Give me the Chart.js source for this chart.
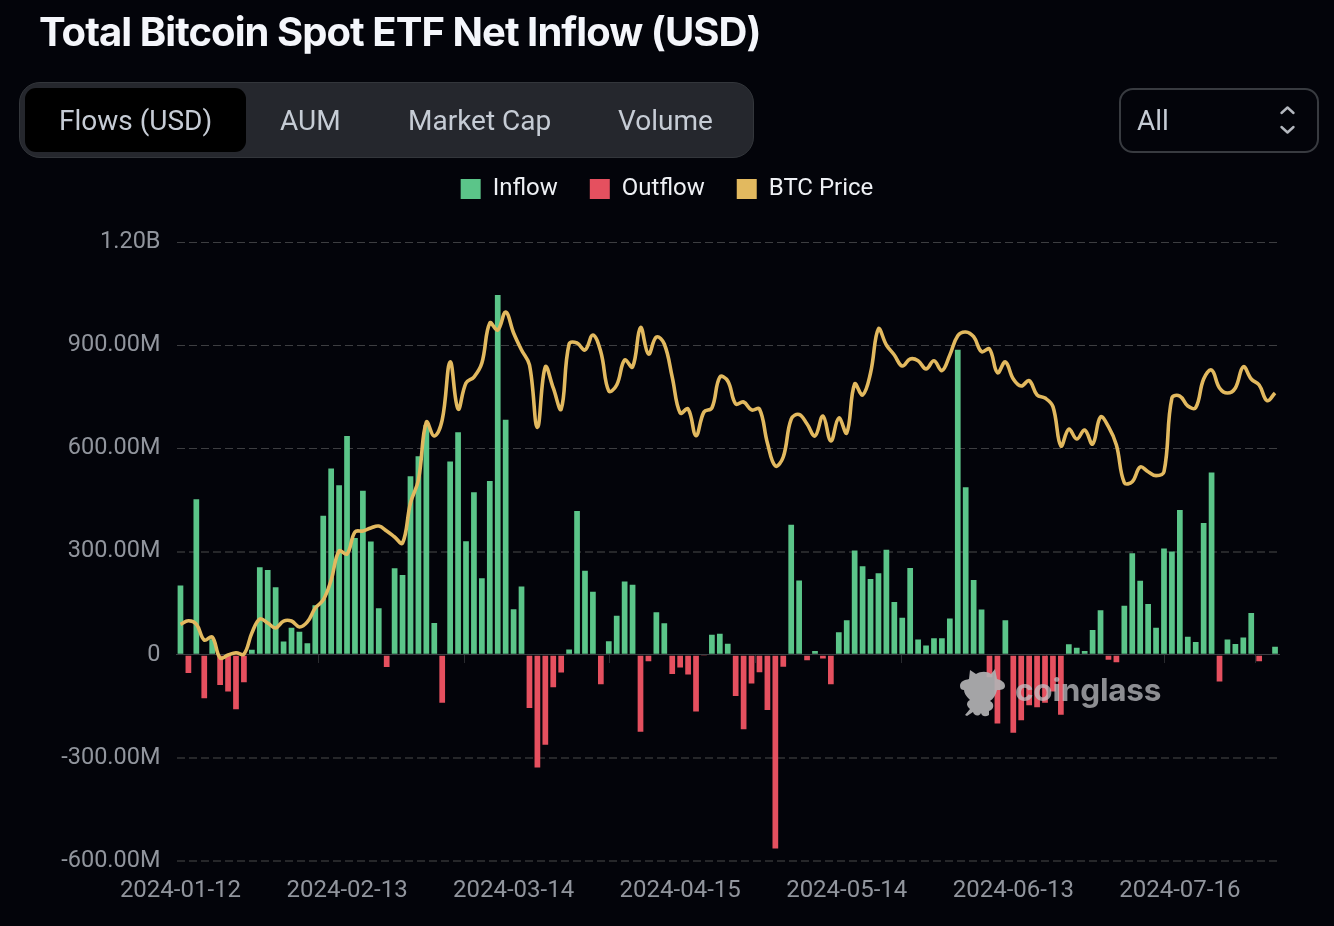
<!DOCTYPE html>
<html><head><meta charset="utf-8">
<script src="https://cdn.jsdelivr.net/npm/chart.js@4"></script>
<style>
html,body{margin:0;padding:0;width:1334px;height:926px;background:#03040a;overflow:hidden}
#c{position:absolute;left:0;top:0;width:1334px;height:926px}
.t{position:absolute;white-space:nowrap}
#title{left:39px;top:9px;font:700 40px Inter,sans-serif;letter-spacing:-.95px;color:#f4f6fb;line-height:46px}
#tabs{position:absolute;left:19px;top:82px;width:733px;height:74px;background:#25272d;border:1px solid #33363b;border-radius:21px;box-sizing:content-box}
#active{position:absolute;left:25px;top:88px;width:221px;height:64px;background:#000;border-radius:11px}
.tab{font:400 28px Roboto,sans-serif;color:#c6ccd5;line-height:34px;top:104px}
#sel{position:absolute;left:1119px;top:88px;width:196px;height:61px;border:2px solid #383b40;border-radius:14px}
#wmt{left:1015px;top:668px;font:700 31.5px Inter,sans-serif;letter-spacing:-.2px;color:rgba(196,196,200,.72);line-height:44px}
</style></head><body>
<canvas id="c" width="1334" height="926"></canvas>
<div class="t" id="title">Total Bitcoin Spot ETF Net Inflow (USD)</div>
<div id="tabs"></div><div id="active"></div>
<div class="t tab" style="left:59px">Flows (USD)</div>
<div class="t tab" style="left:280px">AUM</div>
<div class="t tab" style="left:408px">Market Cap</div>
<div class="t tab" style="left:618px">Volume</div>
<div id="sel"></div>
<div class="t tab" style="left:1137px">All</div>
<svg style="position:absolute;left:1278px;top:105px" width="20" height="30" viewBox="0 0 20 30"><path d="M3.5 8 L9.5 2.5 L15.5 8 M3.5 22 L9.5 27.5 L15.5 22" fill="none" stroke="#b4b8bf" stroke-width="2.4" stroke-linecap="round" stroke-linejoin="round"/></svg>
<svg style="position:absolute;left:958px;top:663px" width="50" height="56" viewBox="0 0 50 56"><path d="M2 23 C2 18 7 17 11 16 L12 7 L18 11 C23 8 29 8 33 11 L37 6 L39 16 C43 17 47 19 47 23 C47 27 42 27 39 27 C38 32 35 36 32 38 C37 40 36 47 31 48 L31 52 C28 54 24 54 23 50 C21 54 16 53 15 49 L9 53 L7 52 L12 46 C8 43 8 39 12 37 C8 33 6 30 6 27 C4 27 2 26 2 23Z" fill="rgba(178,178,180,.92)"/></svg>
<div class="t" id="wmt">coinglass</div>
<script>
const dates = ["2024-01-12","2024-01-16","2024-01-17","2024-01-18","2024-01-19","2024-01-22","2024-01-23","2024-01-24","2024-01-25","2024-01-26","2024-01-29","2024-01-30","2024-01-31","2024-02-01","2024-02-02","2024-02-05","2024-02-06","2024-02-07","2024-02-08","2024-02-09","2024-02-12","2024-02-13","2024-02-14","2024-02-15","2024-02-16","2024-02-20","2024-02-21","2024-02-22","2024-02-23","2024-02-26","2024-02-27","2024-02-28","2024-02-29","2024-03-01","2024-03-04","2024-03-05","2024-03-06","2024-03-07","2024-03-08","2024-03-11","2024-03-12","2024-03-13","2024-03-14","2024-03-15","2024-03-18","2024-03-19","2024-03-20","2024-03-21","2024-03-22","2024-03-25","2024-03-26","2024-03-27","2024-03-28","2024-04-01","2024-04-02","2024-04-03","2024-04-04","2024-04-05","2024-04-08","2024-04-09","2024-04-10","2024-04-11","2024-04-12","2024-04-15","2024-04-16","2024-04-17","2024-04-18","2024-04-19","2024-04-22","2024-04-23","2024-04-24","2024-04-25","2024-04-26","2024-04-29","2024-04-30","2024-05-01","2024-05-02","2024-05-03","2024-05-06","2024-05-07","2024-05-08","2024-05-09","2024-05-10","2024-05-13","2024-05-14","2024-05-15","2024-05-16","2024-05-17","2024-05-20","2024-05-21","2024-05-22","2024-05-23","2024-05-24","2024-05-28","2024-05-29","2024-05-30","2024-05-31","2024-06-03","2024-06-04","2024-06-05","2024-06-06","2024-06-07","2024-06-10","2024-06-11","2024-06-12","2024-06-13","2024-06-14","2024-06-17","2024-06-18","2024-06-20","2024-06-21","2024-06-24","2024-06-25","2024-06-26","2024-06-27","2024-06-28","2024-07-01","2024-07-02","2024-07-03","2024-07-05","2024-07-08","2024-07-09","2024-07-10","2024-07-11","2024-07-12","2024-07-15","2024-07-16","2024-07-17","2024-07-18","2024-07-19","2024-07-22","2024-07-23","2024-07-24","2024-07-25","2024-07-26","2024-07-29","2024-07-30","2024-07-31","2024-08-01"];
// Net flow per trading day, millions of USD
const netFlowM = [201,-53,452,-127,45,-88,-107,-159,-80,14,254,246,196,38,78,67,33,144,404,541,493,636,339,477,329,135,-36,251,232,519,577,668,92,-140,562,647,330,472,222,505,1046,683,132,198,-155,-328,-262,-95,-52,15,418,244,183,-86,39,113,213,203,-224,-19,123,91,-56,-37,-58,-165,-4,58,61,32,-120,-217,-84,-51,-161,-564,-35,378,216,-16,11,-11,-86,65,100,303,257,220,237,305,153,107,252,44,27,48,48,105,887,487,217,131,-66,-200,100,-227,-191,-147,-153,-140,-107,-175,30,20,11,72,129,-15,-22,142,295,215,147,78,309,300,421,52,37,383,530,-78,44,31,50,121,-19,0,23];
const btcPrice = [42940,43290,42970,41420,41710,39680,39970,40190,40060,42100,43460,43070,42590,43260,43260,42680,43170,44520,45300,47240,50050,49760,51890,51990,52280,52470,51990,51410,50820,54700,56930,62550,61200,62750,68370,63810,66330,66910,68270,72150,71470,73210,71180,69530,68080,62020,67880,65850,63810,70110,70210,69530,70990,69340,65560,66140,68560,67880,71710,69140,70790,70110,66910,63420,63810,61230,63520,63910,66910,66530,64300,64490,63720,63810,60520,58290,59160,62840,63280,62360,61200,63130,60710,62940,61490,66240,65170,67300,71570,70020,69050,67980,68660,68490,67690,68490,67530,69050,70920,71280,70820,69370,69630,67330,68370,66720,66040,66560,65170,64880,64040,60230,61870,60900,61780,60420,63040,62100,60320,56670,56770,58190,57730,57350,57730,64880,65070,64100,63940,66720,67590,65850,65360,65850,67910,66720,66140,64620,65360];
const tickEvery = 21;
const yTicksM = [-600,-300,0,300,600,900,1200];

const inflow = netFlowM.map(v => v > 0 ? v*1e6 : null);
const outflow = netFlowM.map(v => v < 0 ? v*1e6 : null);
const fmt = v => v === 0 ? '0' : Math.abs(v) >= 1e9 ? (v/1e9).toFixed(2)+'B' : (v/1e6).toFixed(2)+'M';
const FONT = 'Roboto';
const order = ['Inflow','Outflow','BTC Price'];

new Chart(document.getElementById('c'), {
  type: 'bar',
  data: { labels: dates, datasets: [
    { type:'line', label:'BTC Price', data:btcPrice, yAxisID:'y2', borderColor:'#e2b95f', backgroundColor:'#e2b95f', borderWidth:3.6, pointRadius:0, tension:.4, order:0 },
    { label:'Inflow', data:inflow, backgroundColor:'#5bc589', stack:'f', categoryPercentage:1, barPercentage:.72, order:2 },
    { label:'Outflow', data:outflow, backgroundColor:'#e5505f', stack:'f', categoryPercentage:1, barPercentage:.72, order:2 }
  ]},
  options: {
    responsive:false, animation:false, devicePixelRatio:1,
    layout:{ padding:{ top:145, right:0, left:0, bottom:0 } },
    plugins:{
      tooltip:{enabled:false},
      legend:{ position:'top', align:'center', onClick:null,
        labels:{ boxWidth:20, boxHeight:20, padding:32, color:'#eef0f4', font:{family:FONT,size:24},
          sort:(a,b)=>order.indexOf(a.text)-order.indexOf(b.text),
          generateLabels:ch=>ch.data.datasets.map((d,i)=>({text:d.label,fillStyle:d.backgroundColor,strokeStyle:d.backgroundColor,lineWidth:0,datasetIndex:i,fontColor:'#eef0f4'}))
        } }
    },
    scales:{
      x:{ position:'bottom', stacked:true, offset:true,
        grid:{display:false}, border:{display:false},
        afterBuildTicks:s=>{s.ticks=s.ticks.filter((t,i)=>i%tickEvery===0)},
        afterFit:s=>{s.height=65},
        ticks:{ autoSkip:false, maxRotation:0, minRotation:0, color:'#91959d', font:{family:FONT,size:24}, padding:8 } },
      topGap:{ type:'category', position:'top', display:true,
        grid:{display:false}, border:{display:false}, ticks:{display:false},
        afterFit:s=>{s.height=31} },
      edge:{ type:'linear', axis:'x', position:{y:0}, min:-.5, max:dates.length-.5,
        afterBuildTicks:s=>{s.ticks=[...dates.keys()].filter(i=>i%tickEvery===0).map(i=>({value:i-.5})).concat({value:dates.length-.5})},
        grid:{drawOnChartArea:false, drawTicks:true, tickLength:8, color:'#2a2c30'},
        border:{display:true,color:'#3c3e43',width:1},
        ticks:{display:false} },
      y:{ min:-6e8, max:1.2e9, position:'left',
        afterBuildTicks:s=>{s.ticks=yTicksM.map(v=>({value:v*1e6}))},
        afterFit:s=>{s.width=176.5},
        grid:{ drawTicks:false, color:c=>c.tick.value===0?'rgba(0,0,0,0)':(c.tick.value<=3e8?'#26272a':'#3d3e41'),
          lineWidth:c=>c.tick.value<=3e8?2:1 },
        border:{display:false,dash:[8,4]},
        ticks:{ callback:v=>fmt(v), color:'#91959d', font:{family:FONT,size:23.5}, padding:16 } },
      y2:{ position:'right', display:true, min:20000, max:80000,
        grid:{display:false}, border:{display:false}, ticks:{display:false},
        afterFit:s=>{s.width=55} }
    }
  }
});
</script>
</body></html>
